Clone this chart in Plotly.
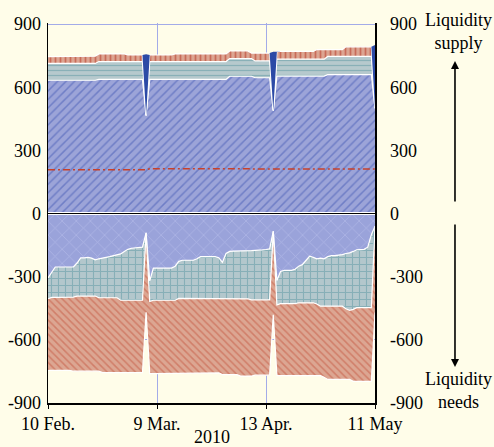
import plotly.graph_objects as go

# ---------------- data (EUR billions, daily, 10 Feb 2010 = day 0 ... 11 May 2010 = day 90)
days = list(range(91))
tick_days = [0, 30, 60, 90]
tick_labels = ["10 Feb.", "9 Mar.", "13 Apr.", "11 May"]
y_ticks = [-900, -600, -300, 0, 300, 600, 900]
y_tick_labels = ["-900", "-600", "-300", "0", "300", "600", "900"]

# liquidity supply components (stacked upwards)
supply_blue = [633, 633, 633, 633, 633, 633, 633, 633, 633, 633,
               633, 633, 633, 633, 637, 637, 637, 637, 637, 637,
               637, 637, 637, 637, 637, 637, 637, 466, 637, 637,
               637, 637, 637, 637, 637, 637, 637, 637, 637, 637,
               637, 637, 637, 637, 637, 637, 637, 637, 637, 637,
               652, 652, 652, 652, 652, 652, 652, 645, 645, 645,
               645, 645, 489, 653, 653, 653, 653, 653, 653, 653,
               653, 653, 653, 653, 653, 653, 653, 660, 660, 660,
               660, 660, 660, 660, 660, 660, 660, 660, 660, 660,
               500]
supply_teal = [80, 80, 80, 80, 80, 80, 80, 80, 80, 80,
               80, 80, 80, 80, 85, 85, 85, 85, 85, 85,
               85, 85, 85, 85, 85, 85, 85, 0, 85, 85,
               85, 85, 85, 85, 85, 85, 85, 85, 85, 85,
               85, 85, 85, 85, 85, 85, 85, 85, 85, 85,
               84, 84, 84, 84, 84, 84, 84, 80, 80, 80,
               80, 80, 0, 80, 80, 80, 80, 80, 80, 80,
               80, 80, 80, 80, 80, 80, 80, 86, 86, 86,
               86, 86, 86, 86, 86, 86, 86, 86, 86, 86,
               0]
supply_red = [32, 32, 32, 32, 32, 32, 32, 34, 34, 34,
              34, 34, 34, 34, 36, 36, 36, 36, 36, 36,
              36, 36, 31, 31, 31, 31, 31, 0, 31, 31,
              31, 31, 31, 31, 31, 36, 36, 36, 36, 36,
              36, 36, 36, 36, 36, 36, 36, 36, 36, 36,
              36, 36, 36, 36, 36, 36, 26, 37, 37, 37,
              37, 37, 0, 37, 37, 37, 37, 37, 37, 37,
              37, 37, 37, 37, 46, 46, 46, 33, 33, 33,
              33, 33, 46, 46, 46, 46, 46, 46, 46, 46,
              0]
supply_fine = [0, 0, 0, 0, 0, 0, 0, 0, 0, 0,
               0, 0, 0, 0, 0, 0, 0, 0, 0, 0,
               0, 0, 0, 0, 0, 0, 0, 291, 0, 0,
               0, 0, 0, 0, 0, 0, 0, 0, 0, 0,
               0, 0, 0, 0, 0, 0, 0, 0, 0, 0,
               0, 0, 0, 0, 0, 0, 0, 0, 0, 0,
               0, 0, 279, 0, 0, 0, 0, 0, 0, 0,
               0, 0, 0, 0, 0, 0, 0, 0, 0, 0,
               0, 0, 0, 0, 0, 0, 0, 0, 0, 0,
               300]
reserve_req = [208, 208, 208, 208, 208, 208, 208, 208, 208, 208,
               208, 208, 208, 208, 208, 208, 208, 208, 208, 208,
               208, 208, 208, 208, 208, 208, 208, 208, 213, 213,
               213, 213, 213, 213, 213, 213, 213, 213, 213, 213,
               213, 213, 213, 213, 213, 213, 213, 213, 213, 213,
               213, 213, 213, 213, 213, 213, 213, 213, 213, 213,
               213, 213, 213, 211, 211, 211, 211, 211, 211, 211,
               211, 211, 211, 211, 211, 211, 211, 211, 211, 211,
               211, 211, 211, 211, 211, 211, 211, 211, 211, 211,
               211]

# liquidity needs components (magnitudes, stacked downwards)
needs_blue = [306, 280, 254, 254, 254, 254, 254, 254, 235, 211,
              211, 208, 212, 220, 215, 210, 208, 205, 200, 196,
              192, 180, 170, 165, 163, 163, 160, 92, 320, 259,
              259, 259, 259, 259, 259, 250, 227, 222, 222, 222,
              222, 215, 205, 205, 205, 205, 205, 210, 232, 190,
              180, 179, 179, 178, 177, 177, 176, 175, 175, 173,
              171, 168, 84, 318, 275, 270, 270, 270, 265, 250,
              243, 225, 203, 208, 215, 212, 215, 205, 200, 200,
              198, 195, 190, 187, 180, 172, 171, 170, 160, 100,
              60]
needs_teal = [99, 118, 144, 144, 143, 143, 143, 143, 157, 181,
              181, 184, 180, 172, 185, 190, 192, 195, 200, 204,
              220, 232, 242, 247, 249, 249, 252, 0, 98, 153,
              153, 153, 153, 153, 153, 162, 176, 181, 181, 181,
              181, 188, 198, 198, 198, 198, 200, 195, 173, 215,
              225, 226, 226, 227, 228, 228, 234, 235, 235, 237,
              239, 242, 0, 116, 153, 158, 158, 158, 163, 174,
              181, 199, 221, 216, 215, 228, 225, 235, 240, 240,
              242, 245, 262, 273, 275, 275, 276, 277, 287, 347,
              0]
needs_red = [340, 347, 347, 347, 348, 348, 348, 352, 357, 357,
             357, 357, 357, 357, 349, 356, 356, 356, 356, 356,
             344, 344, 344, 344, 344, 344, 344, 377, 342, 348,
             348, 348, 348, 348, 348, 348, 357, 357, 357, 357,
             357, 357, 354, 354, 354, 354, 352, 352, 360, 360,
             360, 360, 360, 367, 367, 367, 362, 358, 358, 358,
             358, 358, 397, 336, 342, 342, 342, 342, 342, 346,
             346, 346, 346, 346, 340, 330, 338, 348, 348, 348,
             348, 348, 336, 328, 342, 350, 350, 350, 350, 350,
             410]
zero_level = [0] * len(days)

# ---------------- styling
BG = "#fffde9"
FONT = "Liberation Serif"
WHITE_LINE = dict(color="white", width=1.2)
FINE_BLUE = "#2c4aa6"
GRID = "#a3abe8"
Y_RANGE = [-900, 905]

fig = go.Figure()


def stacked(y, group, bg, fg, shape, size, solidity):
    fig.add_trace(go.Scatter(
        x=days, y=y, mode="lines", stackgroup=group, line=WHITE_LINE,
        fillcolor=bg,
        fillpattern=dict(shape=shape, bgcolor=bg, fgcolor=fg, size=size,
                         solidity=solidity),
        hoverinfo="skip", showlegend=False))


# supply (stacked)
stacked(supply_blue, "supply", "#9ca4d8", "#4258b4", "/", 6, 0.25)
stacked(supply_teal, "supply", "#b6c9cd", "#5b98a2", "-", 5, 0.25)
stacked(supply_red, "supply", "#dca592", "#b3321f", "|", 5, 0.35)

# end-of-period fine-tuning operations, drawn over the stack
supply_base = [b + t + r for b, t, r in zip(supply_blue, supply_teal, supply_red)]
supply_total = [s + f for s, f in zip(supply_base, supply_fine)]
fig.add_trace(go.Scatter(x=days, y=supply_base, mode="lines",
                         line=dict(width=0, color=FINE_BLUE),
                         hoverinfo="skip", showlegend=False))
fig.add_trace(go.Scatter(x=days, y=supply_total, mode="lines", fill="tonexty",
                         fillcolor=FINE_BLUE, line=dict(width=0, color=FINE_BLUE),
                         hoverinfo="skip", showlegend=False))

# needs (stacked downwards)
stacked([-v for v in needs_blue], "needs", "#9aa3da", "#c4caf2", "x", 10, 0.14)
stacked([-v for v in needs_teal], "needs", "#b3c7cc", "#5b98a2", "+", 7, 0.3)
stacked([-v for v in needs_red], "needs", "#dca692", "#c4553f", "\\", 5, 0.3)

# reserve requirements
fig.add_trace(go.Scatter(
    x=days, y=reserve_req, mode="lines",
    line=dict(color="#c8402a", width=1.5, dash="7px,3px,2px,3px"),
    hoverinfo="skip", showlegend=False))

# zero separation (white gap + black line, the latter on the right-hand axis)
fig.add_trace(go.Scatter(x=days, y=zero_level, mode="lines",
                         line=dict(color="white", width=3),
                         hoverinfo="skip", showlegend=False))
fig.add_trace(go.Scatter(x=days, y=zero_level, mode="lines", yaxis="y2",
                         line=dict(color="black", width=1),
                         hoverinfo="skip", showlegend=False))

axis_font = dict(family=FONT, size=18, color="black")

fig.update_layout(
    width=494, height=447,
    margin=dict(l=48, r=119, t=23, b=44, autoexpand=False),
    paper_bgcolor=BG, plot_bgcolor=BG,
    font=axis_font,
    showlegend=False,
    xaxis=dict(range=[0, 90], tickmode="array", tickvals=tick_days,
               ticktext=tick_labels, showline=True, linecolor="black",
               linewidth=1.5, ticks="outside", ticklen=4, tickcolor="black",
               showgrid=True, gridcolor=GRID, gridwidth=1,
               zeroline=False, tickfont=axis_font, fixedrange=True,
               automargin=False),
    yaxis=dict(range=Y_RANGE, tickmode="array", tickvals=y_ticks,
               ticktext=y_tick_labels, showline=True, linecolor="black",
               linewidth=1.5, ticks="", showgrid=True, gridcolor=GRID,
               gridwidth=1, zeroline=False, tickfont=axis_font,
               ticklabelstandoff=2, fixedrange=True, automargin=False),
    yaxis2=dict(range=Y_RANGE, tickmode="array", tickvals=y_ticks,
                ticktext=y_tick_labels, overlaying="y", side="right",
                showline=True, linecolor="black", linewidth=1.5, ticks="",
                showgrid=False, zeroline=False, tickfont=axis_font,
                ticklabelstandoff=10, fixedrange=True, automargin=False),
)

# right-hand labels and arrows
fig.add_annotation(text="Liquidity<br>supply", xref="paper", yref="paper",
                   x=1.254, y=0.977, showarrow=False, font=axis_font,
                   xanchor="center", yanchor="middle")
fig.add_annotation(text="Liquidity<br>needs", xref="paper", yref="paper",
                   x=1.254, y=0.033, showarrow=False, font=axis_font,
                   xanchor="center", yanchor="middle")
fig.add_annotation(text="", xref="paper", yref="paper", x=1.2446, y=0.9,
                   ax=0, ay=142, showarrow=True, arrowhead=2, arrowsize=1,
                   arrowwidth=1.6, arrowcolor="black")
fig.add_annotation(text="", xref="paper", yref="paper", x=1.2446, y=0.095,
                   ax=0, ay=-144, showarrow=True, arrowhead=2, arrowsize=1,
                   arrowwidth=1.6, arrowcolor="black")
fig.add_annotation(text="2010", xref="paper", yref="paper", x=0.5, y=-0.058,
                   showarrow=False, font=axis_font, xanchor="center",
                   yanchor="top")

fig.write_html("out.html",
               config={"displayModeBar": False, "staticPlot": True},
               post_script="document.body.style.margin='0';"
                           "document.body.style.overflow='hidden';")
